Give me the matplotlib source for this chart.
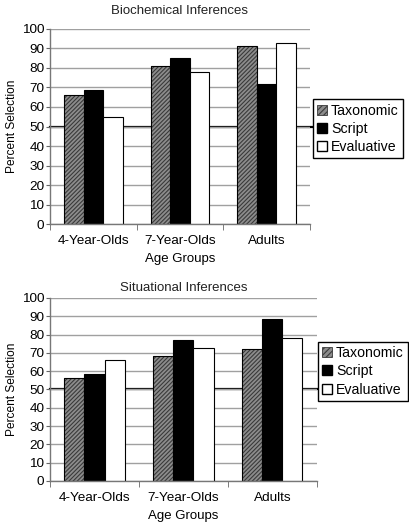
import matplotlib.pyplot as plt
import numpy as np
from matplotlib.patches import Patch

plt.rcParams['font.family'] = ['Liberation Sans', 'DejaVu Sans']
plt.rcParams['hatch.linewidth'] = 0.8

groups = ['4-Year-Olds', '7-Year-Olds', 'Adults']
series = ['Taxonomic', 'Script', 'Evaluative']

bio_tax = [66, 81, 91]
bio_script = [68.5, 85, 72]
bio_eval = [55, 78, 93]

sit_tax = [56, 68.5, 72]
sit_script = [58.5, 77, 88.5]
sit_eval = [66, 72.5, 78]

chance = 50

HATCH_FC = '#8c8c8c'
HATCH_EC = '#3a3a3a'


def draw_panel(ax, title, tax, script, evalu, pad, line_end):
	x = np.arange(len(groups))
	w = 0.225
	ax.set_axisbelow(True)
	ax.yaxis.grid(True, color='#a0a0a0', lw=1.0)
	# hatched bar: fill+hatch first, outline on top
	ax.bar(x - w, tax, w, color=HATCH_FC, hatch='////////', edgecolor=HATCH_EC, lw=0)
	ax.bar(x - w, tax, w, fill=False, edgecolor='black', lw=0.8)
	ax.bar(x, script, w, color='black', edgecolor='black', lw=0.8)
	ax.bar(x + w, evalu, w, color='white', edgecolor='black', lw=0.8)
	ax.axhline(chance, xmin=0, xmax=line_end, color='black', lw=1.6, zorder=0.5, clip_on=False)
	ax.set_xlim(-0.5, 2.5)
	ax.set_ylim(0, 100)
	ax.set_yticks(range(0, 101, 10))
	ax.set_xticks(x)
	ax.set_xticklabels(groups)
	ax.set_xticks([-0.5, 0.5, 1.5, 2.5], minor=True)
	ax.tick_params(axis='x', which='major', length=0, labelsize=9.7, pad=8)
	ax.tick_params(axis='x', which='minor', length=4, color='#666666')
	ax.tick_params(axis='y', length=3, color='#666666', labelsize=9.7, pad=1)
	for s in ['top', 'right']:
		ax.spines[s].set_visible(False)
	for s in ['left', 'bottom']:
		ax.spines[s].set_color('#777777')
		ax.spines[s].set_linewidth(1.0)
	ax.set_title(title, fontsize=9.5, pad=pad, color='#222222')
	ax.set_xlabel('Age Groups', fontsize=9.5, labelpad=4)
	ax.set_ylabel('Percent Selection', fontsize=8.6, labelpad=3)


fig = plt.figure(figsize=(4.1, 5.26), dpi=100)
ax1 = fig.add_axes([0.122, 0.574, 0.634, 0.371])
ax2 = fig.add_axes([0.122, 0.0856, 0.651, 0.348])

draw_panel(ax1, 'Biochemical Inferences', bio_tax, bio_script, bio_eval, 11, 1.012)
draw_panel(ax2, 'Situational Inferences', sit_tax, sit_script, sit_eval, 5, 1.09)

handles = [Patch(facecolor=HATCH_FC, hatch='//////', edgecolor=HATCH_EC, lw=0.6),
	Patch(facecolor='black', edgecolor='black'),
	Patch(facecolor='white', edgecolor='black')]

for lx, ly in [(0.764, 0.755), (0.776, 0.294)]:
	leg = fig.legend(handles, series, loc='center left', bbox_to_anchor=(lx, ly),
		fontsize=10.2, frameon=True, fancybox=False, edgecolor='black',
		framealpha=1, handlelength=0.7, handleheight=0.7, handletextpad=0.25,
		borderpad=0.3, labelspacing=0.3, borderaxespad=0)
	leg.get_frame().set_linewidth(1.0)
	leg.set_zorder(5)

fig.savefig('out.png', dpi=100)
